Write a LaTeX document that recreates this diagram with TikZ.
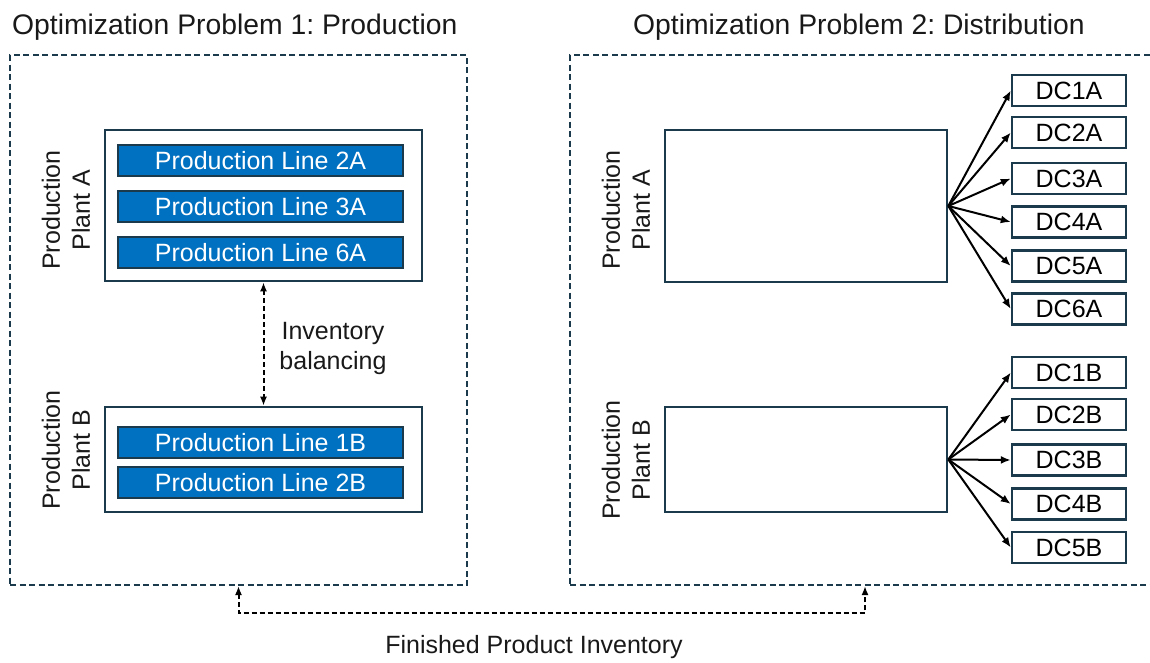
\documentclass[tikz,border=0pt]{standalone}
\usepackage{fontspec}
\setmainfont{Liberation Sans}
\usetikzlibrary{arrows.meta}
\definecolor{navy}{HTML}{1B3A4B}
\definecolor{lineblue}{HTML}{0070C0}
\frenchspacing
\tikzset{
  frame/.style={draw=navy, line width=2pt, dash pattern=on 6pt off 3.5pt, inner sep=0pt},
  plant/.style={draw=navy, line width=2.6pt, fill=white, inner sep=0pt},
  prodline/.style={draw=navy, line width=2.2pt, fill=lineblue, text=white, inner sep=0pt,
    minimum width=285pt, minimum height=31pt, font=\fontsize{25}{28}\selectfont},
  dcbox/.style={draw=navy, line width=2.4pt, inner sep=0pt,
    minimum width=114pt, minimum height=31pt, font=\fontsize{25}{28}\selectfont},
  lbl/.style={font=\fontsize{25}{30}\selectfont, align=center, inner sep=0pt, text=black!90},
  fan/.style={-{Latex[length=10pt,width=8pt]}, line width=2pt},
  twoway/.style={{Latex[length=9pt,width=7pt]}-{Latex[length=9pt,width=7pt]},
    line width=2pt, dash pattern=on 5pt off 3pt}
}
\begin{document}
\begin{tikzpicture}[x=1pt,y=-1pt]
  \useasboundingbox (0,0) rectangle (1150,662);
  \clip (0,0) rectangle (1150,662);

  % titles
  \node[lbl, anchor=base west, font=\fontsize{28.3}{32}\selectfont] (title1) at (12,34) {Optimization Problem 1: Production};
  \node[lbl, anchor=base west, font=\fontsize{28.3}{32}\selectfont] (title2) at (633,34) {Optimization Problem 2: Distribution};

  % the two problems
  \node[frame, minimum width=457pt, minimum height=530pt] (prob1) at (238.5,320) {};
  \node[frame, minimum width=590pt, minimum height=530pt] (prob2) at (865,320) {};

  % production side
  \node[plant, minimum width=317pt, minimum height=151pt] (plantA) at (263.5,205.5) {};
  \node[prodline] (line2A) at (260.5,160.5) {Production Line 2A};
  \node[prodline] (line3A) at (260.5,206.5) {Production Line 3A};
  \node[prodline] (line6A) at (260.5,252.5) {Production Line 6A};
  \node[lbl, rotate=90] (labA) at (66,210) {Production\\Plant A};

  \node[plant, minimum width=317pt, minimum height=105pt] (plantB) at (263.5,459.5) {};
  \node[prodline] (line1B) at (260.5,442.5) {Production Line 1B};
  \node[prodline] (line2B) at (260.5,482.5) {Production Line 2B};
  \node[lbl, rotate=90] (labB) at (66,450) {Production\\Plant B};

  \draw[twoway] (plantA.south) -- (plantB.north);
  \node[lbl] (balance) at (333,348) {Inventory\\balancing};

  % distribution side
  \node[plant, minimum width=282pt, minimum height=152pt] (distA) at (806,206) {};
  \node[lbl, rotate=90] (labA2) at (626,210) {Production\\Plant A};
  \node[plant, minimum width=282pt, minimum height=105pt] (distB) at (806,459.5) {};
  \node[lbl, rotate=90] (labB2) at (626,460) {Production\\Plant B};

  \node[dcbox] (dc1A) at (1069,90.5) {DC1A};
  \node[dcbox] (dc2A) at (1069,132.5) {DC2A};
  \node[dcbox] (dc3A) at (1069,178.5) {DC3A};
  \node[dcbox] (dc4A) at (1069,222) {DC4A};
  \node[dcbox] (dc5A) at (1069,266) {DC5A};
  \node[dcbox] (dc6A) at (1069,309) {DC6A};

  \node[dcbox] (dc1B) at (1069,372.5) {DC1B};
  \node[dcbox] (dc2B) at (1069,414.5) {DC2B};
  \node[dcbox] (dc3B) at (1069,460) {DC3B};
  \node[dcbox] (dc4B) at (1069,504) {DC4B};
  \node[dcbox] (dc5B) at (1069,547.5) {DC5B};

  \draw[fan] (distA.east) -- (dc1A.west);
  \draw[fan] (distA.east) -- (dc2A.west);
  \draw[fan] (distA.east) -- (dc3A.west);
  \draw[fan] (distA.east) -- (dc4A.west);
  \draw[fan] (distA.east) -- (dc5A.west);
  \draw[fan] (distA.east) -- (dc6A.west);

  \draw[fan] (distB.east) -- (dc1B.west);
  \draw[fan] (distB.east) -- (dc2B.west);
  \draw[fan] (distB.east) -- (dc3B.west);
  \draw[fan] (distB.east) -- (dc4B.west);
  \draw[fan] (distB.east) -- (dc5B.west);

  % link between the problems
  \draw[twoway] (prob1.south) -- ++(0,27) -| (prob2.south);
  \node[lbl, anchor=base] (finished) at (534,653) {Finished Product Inventory};
\end{tikzpicture}
\end{document}
